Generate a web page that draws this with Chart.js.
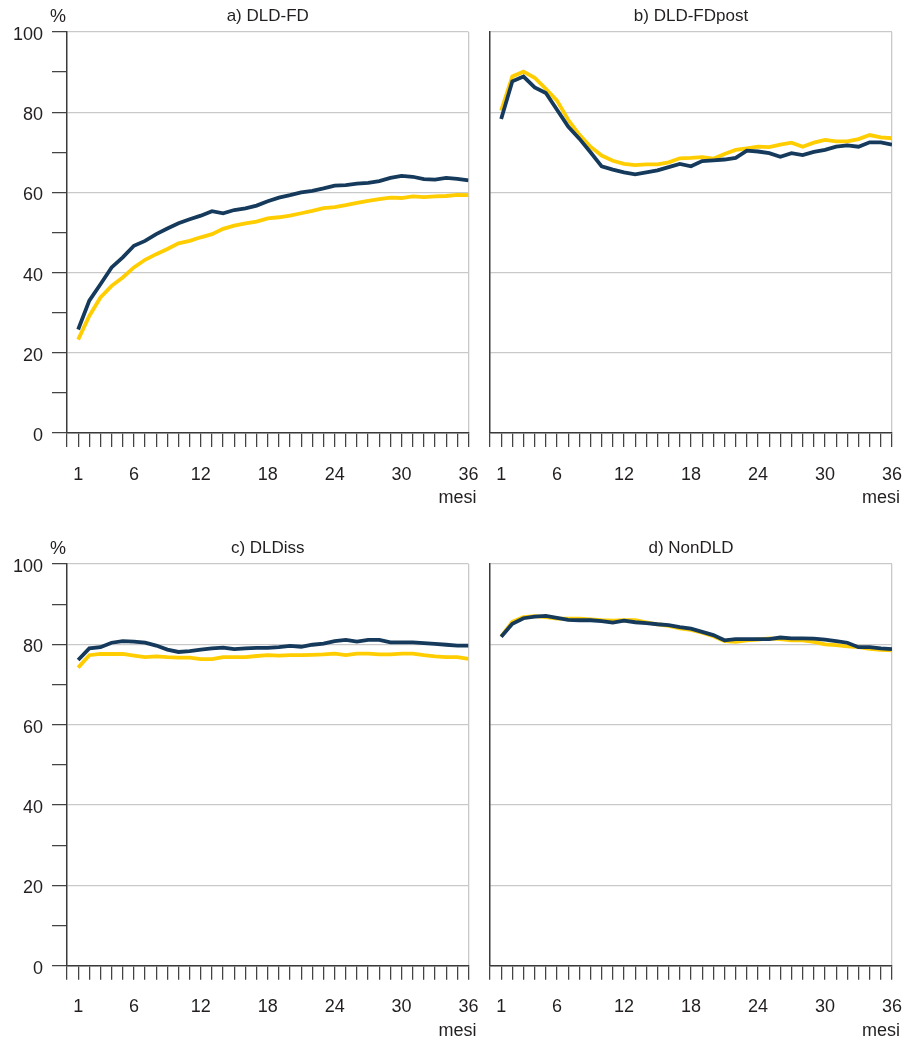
<!DOCTYPE html>
<html>
<head>
<meta charset="utf-8">
<script src="https://cdn.jsdelivr.net/npm/chart.js@4.4.1/dist/chart.umd.min.js"></script>
<style>
  html, body { margin: 0; padding: 0; background: #fff; overflow: hidden; }
  #wrap { position: relative; width: 910px; height: 1044px; }
  canvas { position: absolute; }
</style>
</head>
<body>
<div id="wrap">
  <canvas id="chartA" width="478" height="520" style="left:0;top:0"></canvas>
  <canvas id="chartB" width="432" height="520" style="left:478px;top:0"></canvas>
  <canvas id="chartC" width="478" height="512" style="left:0;top:532px"></canvas>
  <canvas id="chartD" width="432" height="512" style="left:478px;top:532px"></canvas>
</div>
<script>
const months = [1, 2, 3, 4, 5, 6, 7, 8, 9, 10, 11, 12, 13, 14, 15, 16, 17, 18,
  19, 20, 21, 22, 23, 24, 25, 26, 27, 28, 29, 30, 31, 32, 33, 34, 35, 36];
const xTickLabels = [1, 6, 12, 18, 24, 30, 36];
const yTickLabels = [0, 20, 40, 60, 80, 100];
const titles = ['a) DLD-FD', 'b) DLD-FDpost', 'c) DLDiss', 'd) NonDLD'];

// a) DLD-FD
const aBlue = [25.8, 33.0, 37.1, 41.3, 43.8, 46.7, 47.9, 49.6, 51.0, 52.3, 53.3, 54.2,
  55.3, 54.8, 55.6, 56.0, 56.7, 57.8, 58.7, 59.3, 60.0, 60.4, 61.0, 61.7,
  61.8, 62.2, 62.4, 62.8, 63.6, 64.1, 63.9, 63.3, 63.2, 63.6, 63.4, 63.0];
const aYellow = [23.3, 29.2, 33.8, 36.7, 38.8, 41.3, 43.2, 44.6, 45.9, 47.3, 47.9, 48.8,
  49.6, 50.9, 51.7, 52.3, 52.7, 53.5, 53.8, 54.2, 54.8, 55.4, 56.1, 56.3,
  56.8, 57.4, 57.9, 58.3, 58.7, 58.6, 59.0, 58.8, 59.0, 59.1, 59.4, 59.3];

// b) DLD-FDpost
const bBlue = [78.3, 87.7, 88.9, 86.2, 84.8, 80.6, 76.4, 73.4, 70.0, 66.5, 65.7, 65.0,
  64.5, 65.0, 65.5, 66.3, 67.1, 66.5, 67.8, 68.0, 68.2, 68.6, 70.4, 70.2,
  69.8, 68.9, 69.8, 69.3, 70.1, 70.6, 71.4, 71.7, 71.4, 72.5, 72.5, 71.9];
const bYellow = [80.4, 88.9, 90.1, 88.6, 85.8, 82.9, 78.1, 74.4, 71.4, 69.2, 67.9, 67.1,
  66.8, 67.0, 67.0, 67.5, 68.5, 68.6, 68.8, 68.4, 69.6, 70.6, 71.0, 71.4,
  71.3, 71.9, 72.4, 71.4, 72.4, 73.1, 72.7, 72.7, 73.3, 74.3, 73.7, 73.5];

// c) DLDiss
const cBlue = [76.1, 79.0, 79.3, 80.4, 80.8, 80.7, 80.4, 79.7, 78.7, 78.1, 78.3, 78.7,
  79.0, 79.2, 78.8, 79.0, 79.1, 79.1, 79.3, 79.6, 79.4, 79.9, 80.2, 80.8,
  81.1, 80.7, 81.1, 81.1, 80.5, 80.5, 80.5, 80.3, 80.1, 79.9, 79.7, 79.7];
const cYellow = [74.2, 77.3, 77.6, 77.6, 77.6, 77.2, 76.8, 77.0, 76.8, 76.7, 76.7, 76.3,
  76.3, 76.8, 76.8, 76.8, 77.1, 77.3, 77.2, 77.3, 77.3, 77.4, 77.5, 77.7,
  77.3, 77.7, 77.7, 77.5, 77.5, 77.7, 77.7, 77.3, 77.0, 76.8, 76.8, 76.4];

// d) NonDLD
const dBlue = [81.9, 85.1, 86.5, 86.9, 87.1, 86.6, 86.1, 86.0, 86.0, 85.8, 85.4, 85.9,
  85.5, 85.3, 85.0, 84.8, 84.3, 83.9, 83.1, 82.3, 81.0, 81.3, 81.3, 81.3,
  81.3, 81.7, 81.5, 81.5, 81.4, 81.2, 80.8, 80.4, 79.3, 79.3, 79.0, 78.8];
const dYellow = [81.9, 85.6, 86.8, 87.0, 86.8, 86.4, 86.4, 86.4, 86.2, 86.0, 85.9, 86.0,
  86.0, 85.5, 85.0, 84.6, 84.0, 83.6, 82.9, 82.0, 80.8, 80.6, 81.0, 81.2,
  81.5, 81.3, 81.0, 81.0, 80.6, 80.0, 79.8, 79.5, 79.3, 78.9, 78.6, 78.5];

const BLUE = '#153a5c';
const YELLOW = '#ffcd00';
const INK = '#231f20';
const AXIS = '#3a3a3a';
const GRID = '#c9c9c9';
const FONT = '"Liberation Sans", Arial, sans-serif';

Chart.defaults.font.family = FONT;
Chart.defaults.color = INK;

function points(values) {
  return months.map((m, i) => ({ x: m, y: values[i] }));
}

// titles, "%" and "mesi"
const labelsPlugin = {
  id: 'panelText',
  afterDraw(chart, args, opts) {
    const { ctx, chartArea } = chart;
    ctx.save();
    ctx.fillStyle = INK;
    ctx.textBaseline = 'middle';
    ctx.textAlign = 'center';
    ctx.font = '17px ' + FONT;
    ctx.fillText(opts.title, (chartArea.left + chartArea.right) / 2, chartArea.top - 16);
    ctx.font = '18px ' + FONT;
    if (opts.percent) {
      ctx.fillText('%', chartArea.left - 9, chartArea.top - 15);
    }
    ctx.textAlign = 'right';
    ctx.fillText('mesi', chartArea.right + 8, chartArea.bottom + 65);
    ctx.restore();
  }
};

function makeChart(id, title, blue, yellow, left, xHeight) {
  new Chart(document.getElementById(id), {
    type: 'line',
    data: {
      datasets: [
        { data: points(blue), borderColor: BLUE, borderWidth: 3.8 },
        { data: points(yellow), borderColor: YELLOW, borderWidth: 3.8 }
      ]
    },
    plugins: [labelsPlugin],
    options: {
      responsive: false,
      animation: false,
      devicePixelRatio: 1,
      layout: { padding: { top: 32, right: left ? 9.5 : 18, left: 0, bottom: 0 } },
      elements: { point: { radius: 0 }, line: { tension: 0 } },
      plugins: {
        legend: { display: false },
        tooltip: { enabled: false },
        panelText: { title: title, percent: left }
      },
      scales: {
        x: {
          type: 'linear',
          min: 0,
          max: 36,
          afterFit: s => {
            s.height = xHeight;
            s.paddingLeft = 0;
            s.paddingRight = 0;
          },
          border: { color: AXIS, width: 1.5 },
          grid: {
            drawOnChartArea: true,
            color: c => (c.tick && c.tick.value === 36 ? GRID : 'rgba(0,0,0,0)'),
            lineWidth: 1.3,
            tickColor: AXIS,
            tickWidth: 1.2,
            tickLength: 14
          },
          ticks: {
            stepSize: 1,
            autoSkip: false,
            maxRotation: 0,
            minRotation: 0,
            padding: 17,
            font: { size: 18 },
            callback: v => (xTickLabels.includes(v) ? String(v) : '')
          }
        },
        y: {
          min: 0,
          max: 100,
          afterFit: s => {
            s.width = left ? 67 : 12;
            s.paddingTop = 0;
            s.paddingBottom = 0;
          },
          border: { color: AXIS, width: 1.5 },
          grid: {
            color: c => (c.tick && c.tick.value % 20 === 0 ? GRID : 'rgba(0,0,0,0)'),
            lineWidth: 1.3,
            tickColor: AXIS,
            tickWidth: 1.2,
            tickLength: 15,
            drawTicks: left
          },
          ticks: {
            display: left,
            stepSize: 10,
            padding: 9,
            labelOffset: 3,
            font: { size: 18 },
            callback: v => (yTickLabels.includes(v) ? String(v) : '')
          }
        }
      }
    }
  });
}

makeChart('chartA', titles[0], aBlue, aYellow, true, 87);
makeChart('chartB', titles[1], bBlue, bYellow, false, 87);
makeChart('chartC', titles[2], cBlue, cYellow, true, 78.3);
makeChart('chartD', titles[3], dBlue, dYellow, false, 78.3);
</script>
</body>
</html>
